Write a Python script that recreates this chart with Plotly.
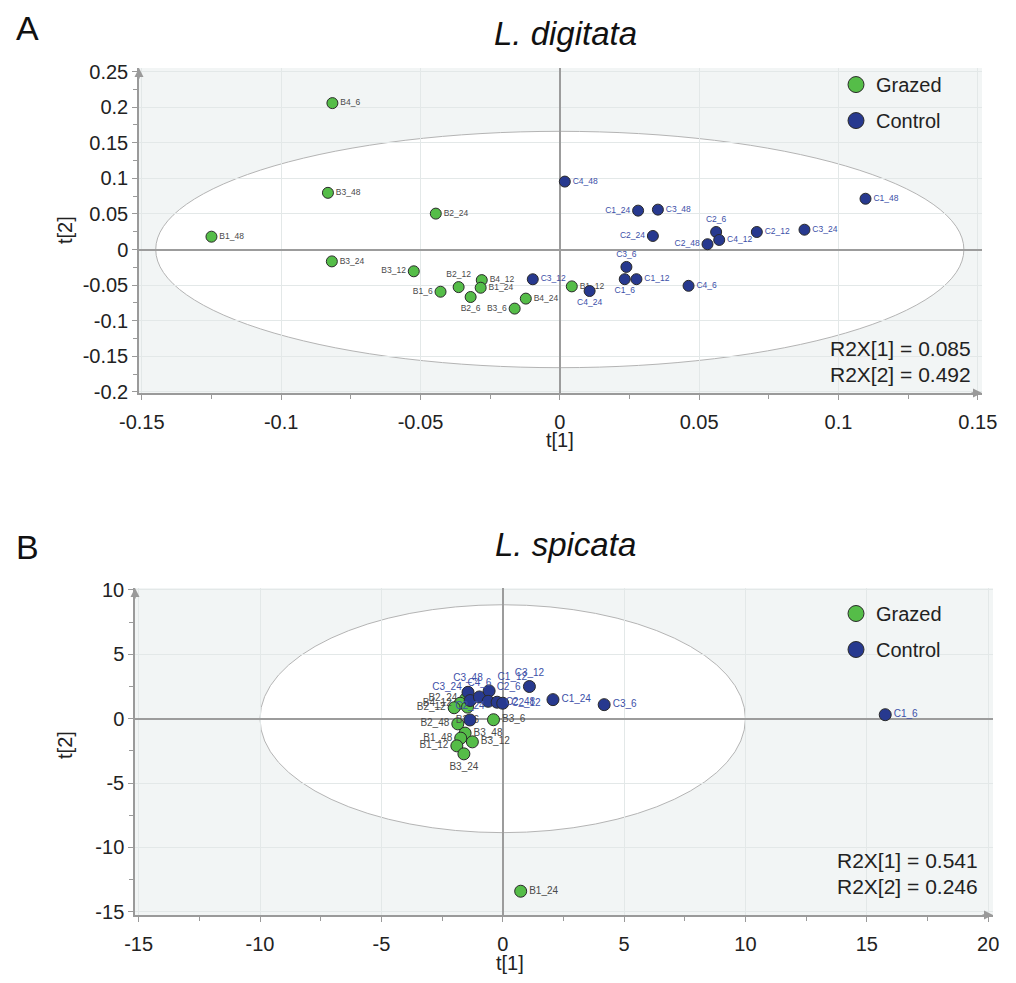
"""PCA score plots (t[1] vs t[2]) for grazed vs control, two species."""

import plotly.graph_objects as go

# ---- data: panel A, L. digitata ----
A_GRAZED_NAMES = ["B4_6", "B3_48", "B2_24", "B1_48", "B3_24", "B3_12", "B2_12",
                  "B4_12", "B1_24", "B1_6", "B2_6", "B3_6", "B4_24", "B1_12"]
A_GRAZED_T1 = [-0.0816, -0.0832, -0.0445, -0.125, -0.0818, -0.0524, -0.0363,
               -0.028, -0.0284, -0.0428, -0.032, -0.0162, -0.0122, 0.0043]
A_GRAZED_T2 = [0.2056, 0.0796, 0.0504, 0.018, -0.0167, -0.0306, -0.0528,
               -0.043, -0.0537, -0.0593, -0.0667, -0.083, -0.069, -0.0518]

A_CONTROL_NAMES = ["C4_48", "C1_24", "C3_48", "C2_24", "C2_6", "C4_12", "C2_48",
                   "C2_12", "C3_24", "C1_48", "C3_6", "C1_6", "C1_12", "C4_6",
                   "C4_24", "C3_12"]
A_CONTROL_T1 = [0.0018, 0.0281, 0.0352, 0.0334, 0.0561, 0.0572, 0.053,
                0.0707, 0.0878, 0.1097, 0.0239, 0.0233, 0.0275, 0.0462,
                0.0107, -0.0097]
A_CONTROL_T2 = [0.0954, 0.0546, 0.056, 0.019, 0.0246, 0.0134, 0.0074,
                0.0246, 0.0278, 0.0713, -0.0245, -0.0417, -0.0417, -0.051,
                -0.0583, -0.0418]

A_R2X = [0.085, 0.492]
A_ELLIPSE = [0.145, 0.166]  # semi-axes of Hotelling T2 ellipse
A_XTICKS = [-0.15, -0.1, -0.05, 0, 0.05, 0.1, 0.15]
A_XTICKTEXT = ["-0.15", "-0.1", "-0.05", "0", "0.05", "0.1", "0.15"]
A_YTICKS = [-0.2, -0.15, -0.1, -0.05, 0, 0.05, 0.1, 0.15, 0.2, 0.25]
A_YTICKTEXT = ["-0.2", "-0.15", "-0.1", "-0.05", "0", "0.05", "0.1", "0.15", "0.2", "0.25"]

# ---- data: panel B, L. spicata ----
B_GRAZED_NAMES = ["B3_6", "B2_24", "B4_12", "B2_12", "B2_6", "B2_48", "B3_48",
                  "B1_48", "B3_12", "B1_12", "B3_24", "B1_24"]
B_GRAZED_T1 = [-0.38, -1.52, -1.75, -2.0, -1.45, -1.85, -1.55,
               -1.73, -1.25, -1.89, -1.6, 0.74]
B_GRAZED_T2 = [-0.08, 1.55, 1.2, 0.85, 0.9, -0.4, -1.12,
               -1.51, -1.8, -2.11, -2.73, -13.4]

B_CONTROL_NAMES = ["C2_24", "C3_48", "C3_24", "C4_6", "C1_12", "C2_6", "C2_48",
                   "C2_12", "C3_12", "C1_24", "C3_6", "C1_6"]
B_CONTROL_T1 = [-1.35, -1.43, -1.34, -0.96, -0.56, -0.6, -0.23,
                0.0, 1.1, 2.07, 4.18, 15.76]
B_CONTROL_T2 = [-0.1, 2.05, 1.41, 1.69, 2.16, 1.35, 1.28,
                1.2, 2.5, 1.48, 1.09, 0.31]

B_R2X = [0.541, 0.246]
B_ELLIPSE = [10.0, 8.85]
B_XTICKS = [-15, -10, -5, 0, 5, 10, 15, 20]
B_XTICKTEXT = ["-15", "-10", "-5", "0", "5", "10", "15", "20"]
B_YTICKS = [-15, -10, -5, 0, 5, 10]
B_YTICKTEXT = ["-15", "-10", "-5", "0", "5", "10"]

# label placement (style only)
LABEL_POS = {
    "A": {"B3_12": "middle left", "B2_12": "top center", "B1_6": "middle left",
          "B2_6": "bottom center", "B3_6": "middle left", "C1_24": "middle left",
          "C2_24": "middle left", "C2_6": "top center", "C2_48": "middle left",
          "C3_6": "top center", "C1_6": "bottom center", "C4_24": "bottom center"},
    "B": {"B2_24": "middle left", "B4_12": "middle left", "B2_12": "middle left",
          "B2_6": "bottom center", "B2_48": "middle left", "B1_48": "middle left",
          "B1_12": "middle left", "B3_24": "bottom center", "C2_24": "top center",
          "C3_48": "top center", "C3_24": "top left", "C4_6": "top center",
          "C1_12": "top right", "C2_6": "top right", "C3_12": "top center"},
}

FONT = "Liberation Sans, Arial, sans-serif"
GREEN = "#55bd48"
BLUE = "#27398f"
BG = "#f2f5f5"
GRID = "#e3e8e8"
AXIS = "#9a9a9a"

fig = go.Figure()


def add_panel(key, xa, ya, g, c, lbl_size, msize):
    for names, t1, t2, col, tcol in [(g[0], g[1], g[2], GREEN, "#4a4a4a"),
                                     (c[0], c[1], c[2], BLUE, "#3c50a8")]:
        fig.add_trace(go.Scatter(
            x=t1, y=t2, text=names, mode="markers+text",
            textposition=[LABEL_POS[key].get(n, "middle right") for n in names],
            textfont=dict(size=lbl_size, color=tcol, family=FONT),
            marker=dict(size=msize, color=col, line=dict(color="#2a2a2a", width=1)),
            xaxis=xa, yaxis=ya, showlegend=False, cliponaxis=False,
        ))


add_panel("A", "x", "y",
          (A_GRAZED_NAMES, A_GRAZED_T1, A_GRAZED_T2),
          (A_CONTROL_NAMES, A_CONTROL_T1, A_CONTROL_T2), 8.5, 11)
add_panel("B", "x2", "y2",
          (B_GRAZED_NAMES, B_GRAZED_T1, B_GRAZED_T2),
          (B_CONTROL_NAMES, B_CONTROL_T1, B_CONTROL_T2), 10, 12)

# legend entries (dummy traces so the legend symbols can be larger)
for legend, xa, ya in [("legend", "x", "y"), ("legend2", "x2", "y2")]:
    for name, col in [("Grazed", GREEN), ("Control", BLUE)]:
        fig.add_trace(go.Scatter(
            x=[None], y=[None], mode="markers", name=name, legend=legend,
            legendgroup=legend + name, xaxis=xa, yaxis=ya,
            marker=dict(size=16, color=col, line=dict(color="#2a2a2a", width=1)),
        ))

# ellipses
for (a, b), xr, yr in [(A_ELLIPSE, "x", "y"), (B_ELLIPSE, "x2", "y2")]:
    fig.add_shape(type="circle", xref=xr, yref=yr, x0=-a, x1=a, y0=-b, y1=b,
                  fillcolor="white", line=dict(color="#b4b4b4", width=1), layer="below")

ax_common = dict(
    showgrid=True, gridcolor=GRID, gridwidth=1, zeroline=True, zerolinecolor="#9c9c9c",
    zerolinewidth=1.5, showline=True, linecolor=AXIS, linewidth=1.5,
    ticks="outside", ticklen=5, tickcolor=AXIS, mirror=False, automargin=False,
    tickfont=dict(size=20, color="#222", family=FONT),
)

fig.update_layout(
    width=1000, height=967, margin=dict(l=0, r=0, t=0, b=0),
    paper_bgcolor="white", plot_bgcolor=BG,
    font=dict(family=FONT, color="#222"),
    xaxis=dict(domain=[0.131, 0.974], range=[-0.151, 0.1515], tickvals=A_XTICKS,
               ticktext=A_XTICKTEXT, anchor="y", ticklabelstandoff=5,
               minor=dict(dtick=0.025, tick0=0, ticks="outside", ticklen=4,
                          tickcolor=AXIS, showgrid=False), **ax_common),
    yaxis=dict(domain=[0.6019, 0.938], range=[-0.2015, 0.255], tickvals=A_YTICKS,
               ticktext=A_YTICKTEXT, anchor="x", ticklabelstandoff=0,
               minor=dict(dtick=0.025, tick0=0, ticks="outside", ticklen=4,
                          tickcolor=AXIS, showgrid=False), **ax_common),
    xaxis2=dict(domain=[0.127, 0.985], range=[-15.15, 20.2], tickvals=B_XTICKS,
                ticktext=B_XTICKTEXT, anchor="y2", ticklabelstandoff=5,
                minor=dict(dtick=2.5, tick0=0, ticks="outside", ticklen=4,
                           tickcolor=AXIS, showgrid=False), **ax_common),
    yaxis2=dict(domain=[0.062, 0.4002], range=[-15.25, 10.15], tickvals=B_YTICKS,
                ticktext=B_YTICKTEXT, anchor="x2", ticklabelstandoff=0,
                minor=dict(dtick=2.5, tick0=0, ticks="outside", ticklen=4,
                           tickcolor=AXIS, showgrid=False), **ax_common),
    legend=dict(x=0.828, y=0.941, xanchor="left", yanchor="top", bgcolor="rgba(0,0,0,0)",
                font=dict(size=20, color="#222", family=FONT), tracegroupgap=7,
                itemsizing="trace"),
    legend2=dict(x=0.828, y=0.394, xanchor="left", yanchor="top", bgcolor="rgba(0,0,0,0)",
                 font=dict(size=20, color="#222", family=FONT), tracegroupgap=7,
                 itemsizing="trace"),
)

ann = []
# panel letters and species titles
for txt, x, y, size, ya in [("A", 0.019, 1.0, 34, "top"), ("B", 0.019, 0.4426, 34, "middle"),
                            ("<i>L. digitata</i>", 0.557, 0.974, 33, "middle"),
                            ("<i>L. spicata</i>", 0.557, 0.4447, 33, "middle")]:
    ann.append(dict(text=txt, x=x, y=y, xref="paper", yref="paper", showarrow=False,
                    xanchor="center", yanchor=ya, borderpad=0,
                    font=dict(size=size, color="#111", family=FONT)))
# axis titles
for txt, x, y, ang, ya in [("t[1]", 0.552, 0.5533, 0, "middle"),
                           ("t[2]", 0.057, 0.7704, -90, "middle"),
                           ("t[1]", 0.502, 0.0, 0, "bottom"),
                           ("t[2]", 0.057, 0.2379, -90, "middle")]:
    ann.append(dict(text=txt, x=x, y=y, xref="paper", yref="paper", showarrow=False,
                    xanchor="center", yanchor=ya, textangle=ang, borderpad=0,
                    font=dict(size=20, color="#222", family=FONT)))
# R2X statistics
for r2x, x, y0 in [(A_R2X, 0.965, 0.6474), (B_R2X, 0.972, 0.1179)]:
    for i, v in enumerate(r2x):
        ann.append(dict(text=f"R2X[{i + 1}] = {v:.3f}", x=x, y=y0 - i * 0.0259,
                        xref="paper", yref="paper", xanchor="right", yanchor="middle",
                        showarrow=False, font=dict(size=21, color="#222", family=FONT)))
# axis arrows
for xr, yr in [("x", "y"), ("x2", "y2")]:
    ann.append(dict(x=0, y=1.0, xref=f"{xr} domain", yref=f"{yr} domain", text="",
                    showarrow=True, arrowhead=2, arrowsize=1.2, arrowwidth=1.5,
                    arrowcolor=AXIS, ax=0, ay=12))
    ann.append(dict(x=1.0, y=0, xref=f"{xr} domain", yref=f"{yr} domain", text="",
                    showarrow=True, arrowhead=2, arrowsize=1.2, arrowwidth=1.5,
                    arrowcolor=AXIS, ax=-12, ay=0))
fig.update_layout(annotations=ann)

fig.write_html("out.html")
